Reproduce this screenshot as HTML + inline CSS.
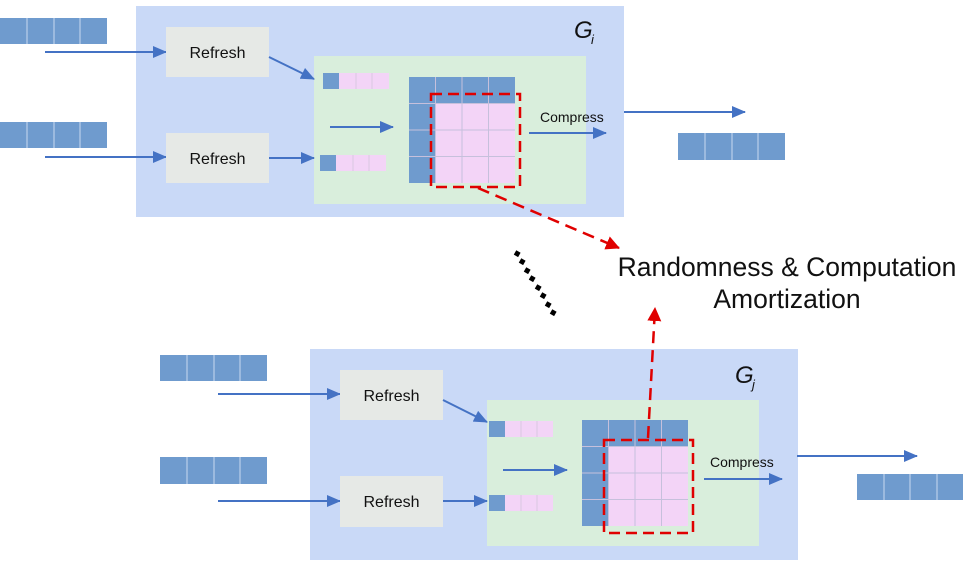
<!DOCTYPE html>
<html><head><meta charset="utf-8"><style>
html,body{margin:0;padding:0;background:#fff;}
svg{display:block;}
text{font-family:"Liberation Sans","DejaVu Sans",sans-serif;}
</style></head><body>
<svg width="974" height="563" viewBox="0 0 974 563" xmlns="http://www.w3.org/2000/svg">
<defs>
<marker id="ab" markerWidth="14" markerHeight="12" refX="13" refY="6" orient="auto" markerUnits="userSpaceOnUse" viewBox="0 0 14 12"><path d="M0,0 L14,6 L0,12 z" fill="#4472c4"/></marker>
<marker id="ar" markerWidth="14" markerHeight="14" refX="13" refY="7" orient="auto" markerUnits="userSpaceOnUse" viewBox="0 0 14 14"><path d="M0,0 L14,7 L0,14 z" fill="#e00000"/></marker>
</defs>

<!-- TOP GROUP -->
<g>
<rect x="136" y="6" width="488" height="211" fill="#c9d9f7"/>
<rect x="0" y="18" width="107" height="26" fill="#6f9bce"/>
<path d="M27 18v26M54 18v26M80 18v26" stroke="#c9d9f0" stroke-width="1"/>
<rect x="0" y="122" width="107" height="26" fill="#6f9bce"/>
<path d="M27 122v26M54 122v26M80 122v26" stroke="#c9d9f0" stroke-width="1"/>
<line x1="45" y1="52" x2="166" y2="52" stroke="#4472c4" stroke-width="2" marker-end="url(#ab)"/>
<line x1="45" y1="157" x2="166" y2="157" stroke="#4472c4" stroke-width="2" marker-end="url(#ab)"/>
<rect x="166" y="27" width="103" height="50" fill="#e6e9e6"/>
<rect x="166" y="133" width="103" height="50" fill="#e6e9e6"/>
<text x="217.5" y="58" font-size="16" text-anchor="middle" fill="#111">Refresh</text>
<text x="217.5" y="164" font-size="16" text-anchor="middle" fill="#111">Refresh</text>
<rect x="314" y="56" width="272" height="148" fill="#d9eedc"/>
<line x1="269" y1="57" x2="314" y2="79" stroke="#4472c4" stroke-width="2" marker-end="url(#ab)"/>
<line x1="269" y1="158" x2="314" y2="158" stroke="#4472c4" stroke-width="2" marker-end="url(#ab)"/>
<rect x="323" y="73" width="16" height="16" fill="#6f9bce"/>
<rect x="339" y="73" width="50" height="16" fill="#f3d4f7"/>
<path d="M356 73v16M372 73v16" stroke="#d8c8e0"/>
<rect x="320" y="155" width="16" height="16" fill="#6f9bce"/>
<rect x="336" y="155" width="50" height="16" fill="#f3d4f7"/>
<path d="M353 155v16M369 155v16" stroke="#d8c8e0"/>
<line x1="330" y1="127" x2="393" y2="127" stroke="#4472c4" stroke-width="2" marker-end="url(#ab)"/>
<rect x="409" y="77" width="106" height="106" fill="#6f9bce"/>
<rect x="435" y="103" width="80" height="80" fill="#f3d4f7"/>
<path d="M435.5 77v106M462 77v106M488.5 77v106M409 103.5h106M409 130h106M409 156.5h106" stroke="#c6c0dc" stroke-width="1"/>
<rect x="431" y="94" width="89" height="93" fill="none" stroke="#e00000" stroke-width="2.5" stroke-dasharray="11,6"/>
<text x="540" y="122" font-size="14" fill="#111">Compress</text>
<line x1="529" y1="133" x2="606" y2="133" stroke="#4472c4" stroke-width="2" marker-end="url(#ab)"/>
<text x="574" y="38" font-size="24" font-style="italic" fill="#111">G</text>
<text x="591" y="44" font-size="13" font-style="italic" fill="#111">i</text>
<line x1="624" y1="112" x2="745" y2="112" stroke="#4472c4" stroke-width="2" marker-end="url(#ab)"/>
<rect x="678" y="133" width="107" height="27" fill="#6f9bce"/>
<path d="M705 133v27M732 133v27M758 133v27" stroke="#c9d9f0"/>
</g>

<!-- BOTTOM GROUP -->
<g transform="translate(174,343)">
<rect x="136" y="6" width="488" height="211" fill="#c9d9f7"/>
<rect x="-14" y="12" width="107" height="26" fill="#6f9bce"/>
<path d="M13 12v26M40 12v26M66 12v26" stroke="#c9d9f0"/>
<rect x="-14" y="114" width="107" height="27" fill="#6f9bce"/>
<path d="M13 114v27M40 114v27M66 114v27" stroke="#c9d9f0"/>
<line x1="44" y1="51" x2="166" y2="51" stroke="#4472c4" stroke-width="2" marker-end="url(#ab)"/>
<line x1="44" y1="158" x2="166" y2="158" stroke="#4472c4" stroke-width="2" marker-end="url(#ab)"/>
<rect x="166" y="27" width="103" height="50" fill="#e6e9e6"/>
<rect x="166" y="133" width="103" height="51" fill="#e6e9e6"/>
<text x="217.5" y="58" font-size="16" text-anchor="middle" fill="#111">Refresh</text>
<text x="217.5" y="164" font-size="16" text-anchor="middle" fill="#111">Refresh</text>
<rect x="313" y="57" width="272" height="146" fill="#d9eedc"/>
<line x1="269" y1="57" x2="313" y2="79" stroke="#4472c4" stroke-width="2" marker-end="url(#ab)"/>
<line x1="269" y1="158" x2="313" y2="158" stroke="#4472c4" stroke-width="2" marker-end="url(#ab)"/>
<rect x="315" y="78" width="16" height="16" fill="#6f9bce"/>
<rect x="331" y="78" width="48" height="16" fill="#f3d4f7"/>
<path d="M347 78v16M363 78v16" stroke="#d8c8e0"/>
<rect x="315" y="152" width="16" height="16" fill="#6f9bce"/>
<rect x="331" y="152" width="48" height="16" fill="#f3d4f7"/>
<path d="M347 152v16M363 152v16" stroke="#d8c8e0"/>
<line x1="329" y1="127" x2="393" y2="127" stroke="#4472c4" stroke-width="2" marker-end="url(#ab)"/>
<rect x="408" y="77" width="106" height="106" fill="#6f9bce"/>
<rect x="434" y="103" width="80" height="80" fill="#f3d4f7"/>
<path d="M434.5 77v106M461 77v106M487.5 77v106M408 103.5h106M408 130h106M408 156.5h106" stroke="#c6c0dc" stroke-width="1"/>
<rect x="430" y="97" width="89" height="93" fill="none" stroke="#e00000" stroke-width="2.5" stroke-dasharray="11,6"/>
<text x="536" y="124" font-size="14" fill="#111">Compress</text>
<line x1="530" y1="136" x2="608" y2="136" stroke="#4472c4" stroke-width="2" marker-end="url(#ab)"/>
<text x="561" y="40" font-size="24" font-style="italic" fill="#111">G</text>
<text x="578" y="46" font-size="13" font-style="italic" fill="#111">j</text>
<line x1="623" y1="113" x2="743" y2="113" stroke="#4472c4" stroke-width="2" marker-end="url(#ab)"/>
<rect x="683" y="131" width="106" height="26" fill="#6f9bce"/>
<path d="M710 131v26M736 131v26M763 131v26" stroke="#c9d9f0"/>
</g>

<!-- red dashed connectors -->
<line x1="478" y1="188" x2="619" y2="248" stroke="#e00000" stroke-width="2.5" stroke-dasharray="12,7" marker-end="url(#ar)"/>
<line x1="648" y1="438" x2="655" y2="308" stroke="#e00000" stroke-width="2.5" stroke-dasharray="12,7" marker-end="url(#ar)"/>

<!-- dots -->
<g fill="#000">
<rect x="515" y="251" width="5" height="5" transform="rotate(30 517 253)"/>
<rect x="520" y="259" width="5" height="5" transform="rotate(30 522 261)"/>
<rect x="525" y="268" width="5" height="5" transform="rotate(30 527 270)"/>
<rect x="530" y="276" width="5" height="5" transform="rotate(30 532 278)"/>
<rect x="536" y="285" width="5" height="5" transform="rotate(30 538 287)"/>
<rect x="541" y="293" width="5" height="5" transform="rotate(30 543 295)"/>
<rect x="546" y="302" width="5" height="5" transform="rotate(30 548 304)"/>
<rect x="551" y="310" width="5" height="5" transform="rotate(30 553 312)"/>
</g>

<text x="787" y="276" font-size="26.5" text-anchor="middle" fill="#111">Randomness &amp; Computation</text>
<text x="787" y="308" font-size="26.5" text-anchor="middle" fill="#111">Amortization</text>
</svg>
</body></html>
